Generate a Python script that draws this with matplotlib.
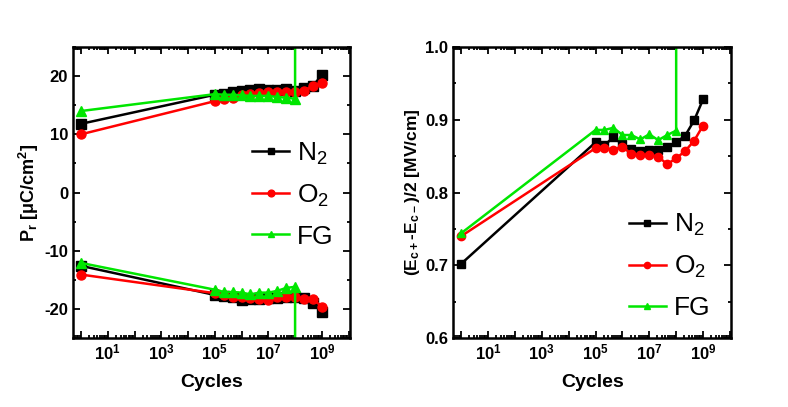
import matplotlib

matplotlib.use("Agg")
import matplotlib.pyplot as plt
import matplotlib.ticker as mticker
import numpy as np

plt.rcParams["font.family"] = ["Liberation Sans", "DejaVu Sans"]
plt.rcParams["font.weight"] = "bold"
plt.rcParams["axes.labelweight"] = "bold"
plt.rcParams["mathtext.default"] = "regular"
plt.rcParams["axes.unicode_minus"] = False

# cycles (1 cycle, then 1/3-decade steps from 1e5 to 1e9)
cycles = [1, 1e5, 2.15e5, 4.64e5, 1e6, 2.15e6, 4.64e6, 1e7, 2.15e7, 4.64e7,
          1e8, 2.15e8, 4.64e8, 1e9]
# FG sample stops at 1e8 (breakdown: last value off the chart)
cycles_fg = cycles[:11] + [1e8]

# remanent polarisation, positive branch [uC/cm2]
pr_pos_n2 = [11.8, 16.8, 17.0, 17.3, 17.5, 17.6, 17.8, 17.6, 17.6, 17.7, 17.5, 18.0, 18.3, 20.2]
pr_pos_o2 = [10.0, 15.7, 16.1, 16.3, 16.8, 17.0, 17.1, 17.2, 17.2, 17.2, 17.2, 17.5, 18.3, 18.8]
pr_pos_fg = [14.0, 16.9, 16.8, 16.8, 16.7, 16.6, 16.6, 16.6, 16.4, 16.3, 16.1, 100.0]
# negative branch
pr_neg_n2 = [-12.6, -17.6, -17.8, -18.0, -18.4, -18.3, -18.3, -18.2, -18.1, -18.0, -18.0, -18.1, -19.0, -20.6]
pr_neg_o2 = [-14.1, -17.3, -17.6, -17.9, -18.0, -18.1, -18.3, -18.4, -18.0, -18.0, -18.0, -18.3, -18.3, -19.6]
pr_neg_fg = [-12.1, -16.7, -17.1, -17.1, -17.2, -17.5, -17.2, -17.2, -16.9, -16.4, -16.2, -100.0]

# (Ec+ - Ec-)/2 [MV/cm]
ec_n2 = [0.702, 0.869, 0.865, 0.876, 0.866, 0.860, 0.857, 0.859, 0.859, 0.863, 0.869, 0.878, 0.899, 0.928]
ec_o2 = [0.740, 0.861, 0.861, 0.859, 0.863, 0.853, 0.851, 0.852, 0.849, 0.839, 0.847, 0.857, 0.871, 0.892]
ec_fg = [0.744, 0.886, 0.886, 0.889, 0.879, 0.879, 0.873, 0.880, 0.872, 0.879, 0.885, 2.0]

BLACK, RED, GREEN = "#000000", "#ff0000", "#00e600"
STYLE = {
    "N$_2$": dict(color=BLACK, marker="s"),
    "O$_2$": dict(color=RED, marker="o"),
    "FG": dict(color=GREEN, marker="^"),
}


def _log_axis(ax):
    ax.set_xscale("log")
    ax.set_xlim(10 ** -0.3, 10 ** 10.05)
    ax.xaxis.set_major_locator(mticker.LogLocator(base=10, numticks=20))
    ax.xaxis.set_minor_locator(mticker.LogLocator(base=10, subs=np.arange(2, 10), numticks=20))

    def fmt(v, pos):
        e = int(round(np.log10(v)))
        return f"$10^{{{e}}}$" if e % 2 == 1 else ""

    ax.xaxis.set_major_formatter(mticker.FuncFormatter(fmt))
    ax.xaxis.set_minor_formatter(mticker.NullFormatter())
    ax.tick_params(which="both", direction="in", top=True, right=True, width=1.3)
    ax.tick_params(which="major", length=5, labelsize=12)
    ax.tick_params(which="minor", length=2.5)
    for s in ax.spines.values():
        s.set_linewidth(1.8)
    ax.set_xlabel("Cycles", fontsize=14, labelpad=8)


def _legend(ax, anchor):
    ax.legend(loc="upper left", bbox_to_anchor=anchor, frameon=False,
              prop={"weight": "normal", "size": 19}, handlelength=1.4,
              handletextpad=0.3, labelspacing=0.6, markerscale=0.75,
              borderaxespad=0)


fig = plt.figure(figsize=(7.88, 4.07), dpi=100)
ax1 = fig.add_axes([0.0926, 0.1695, 0.3515, 0.715])
ax2 = fig.add_axes([0.575, 0.1695, 0.353, 0.715])

# left: Pr
for lab, pos, neg, xs in [("N$_2$", pr_pos_n2, pr_neg_n2, cycles),
                          ("O$_2$", pr_pos_o2, pr_neg_o2, cycles),
                          ("FG", pr_pos_fg, pr_neg_fg, cycles_fg)]:
    st = STYLE[lab]
    ax1.plot(xs, pos, lw=1.8, ms=6.5, label=lab, **st)
    ax1.plot(xs, neg, lw=1.8, ms=6.5, **st)
_log_axis(ax1)
ax1.set_ylim(-25, 25)
ax1.yaxis.set_major_locator(mticker.MultipleLocator(10))
ax1.yaxis.set_minor_locator(mticker.MultipleLocator(5))
ax1.set_ylabel("P$_r$ [μC/cm$^2$]", fontsize=13, labelpad=2)
_legend(ax1, (0.61, 0.715))

# right: coercive field
for lab, vals, xs in [("N$_2$", ec_n2, cycles), ("O$_2$", ec_o2, cycles), ("FG", ec_fg, cycles_fg)]:
    ax2.plot(xs, vals, lw=1.8, ms=6, label=lab, **STYLE[lab])
_log_axis(ax2)
ax2.set_ylim(0.6, 1.0)
ax2.yaxis.set_major_locator(mticker.MultipleLocator(0.1))
ax2.yaxis.set_minor_locator(mticker.MultipleLocator(0.05))
ax2.yaxis.set_major_formatter(mticker.FormatStrFormatter("%.1f"))
ax2.set_ylabel("(E$_{c+}$-E$_{c-}$)/2 [MV/cm]", fontsize=12.5, labelpad=2)
_legend(ax2, (0.594, 0.47))

fig.savefig("out.png", dpi=100)
